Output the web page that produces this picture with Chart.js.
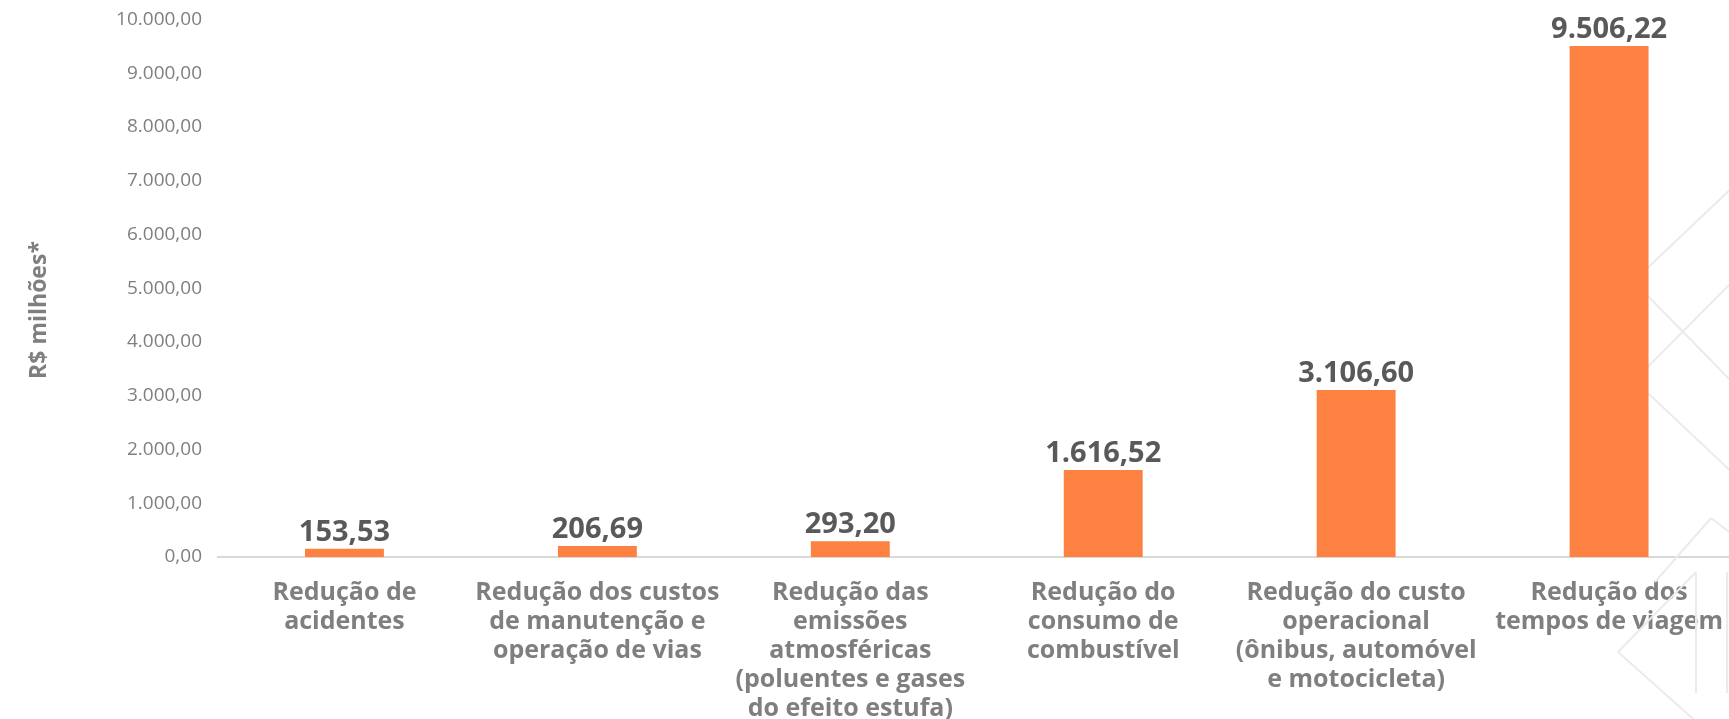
<!DOCTYPE html>
<html>
<head>
<meta charset="utf-8">
<script src="https://cdn.jsdelivr.net/npm/chart.js@4.4.1/dist/chart.umd.min.js"></script>
<style>
    html, body { margin: 0; padding: 0; background: #fff; overflow: hidden; }
    #wrap { width: 1736px; height: 719px; }
</style>
</head>
<body>
<div id="wrap"><canvas id="benefitChart" width="1736" height="719"></canvas></div>
<script>
// =========================
// DATA
// =========================
const categories = [
    ["Redução de", "acidentes"],
    ["Redução dos custos", "de manutenção e", "operação de vias"],
    ["Redução das", "emissões", "atmosféricas", "(poluentes e gases", "do efeito estufa)"],
    ["Redução do", "consumo de", "combustível"],
    ["Redução do custo", "operacional", "(ônibus, automóvel", "e motocicleta)"],
    ["Redução dos", "tempos de viagem"]
];
const values = [153.53, 206.69, 293.20, 1616.52, 3106.60, 9506.22];
const yTickValues = [0, 1000, 2000, 3000, 4000, 5000, 6000, 7000, 8000, 9000, 10000];
const yTitle = "R$ milhões*";

const FONT = '"Open Sans", "Noto Sans", sans-serif';
const GREY = "#7f7f7f";

// pt-BR number format: 9.506,22
function fmtBR(v) {
    const parts = Number(v).toFixed(2).split(".");
    return parts[0].replace(/\B(?=(\d{3})+(?!\d))/g, ".") + "," + parts[1];
}

// =========================
// PLUGINS
// =========================
// faint background decoration at the right edge
const decoPlugin = {
    id: "deco",
    beforeDatasetsDraw(chart) {
        const ctx = chart.ctx;
        ctx.save();
        ctx.strokeStyle = "#ebebeb";
        ctx.lineWidth = 2;
        const segs = [
            [1600, 313, 1736, 184],
            [1600, 247, 1736, 386],
            [1600, 415, 1736, 278],
            [1600, 348, 1736, 476],
            [1655, 582, 1711, 518],
            [1711, 518, 1736, 537],
            [1696, 572, 1618, 652],
            [1618, 652, 1700, 725],
            [1696, 572, 1696, 693],
            [1727, 572, 1727, 693]
        ];
        segs.forEach(s => {
            ctx.beginPath();
            ctx.moveTo(s[0], s[1]);
            ctx.lineTo(s[2], s[3]);
            ctx.stroke();
        });
        ctx.restore();
    }
};

// value labels above bars + rotated axis title
const labelPlugin = {
    id: "valueLabels",
    afterDatasetsDraw(chart) {
        const ctx = chart.ctx;
        const meta = chart.getDatasetMeta(0);
        ctx.save();
        ctx.fillStyle = "#595959";
        ctx.font = "bold 29px " + FONT;
        ctx.textAlign = "center";
        ctx.textBaseline = "alphabetic";
        meta.data.forEach((bar, i) => {
            ctx.fillText(fmtBR(values[i]), bar.x, bar.y - 8);
        });

        ctx.translate(39, 310);
        ctx.rotate(-Math.PI / 2);
        ctx.fillStyle = GREY;
        ctx.font = "bold 23px " + FONT;
        ctx.textBaseline = "middle";
        ctx.fillText(yTitle, 0, 0);
        ctx.restore();
    }
};

// =========================
// CHART
// =========================
const ctx = document.getElementById("benefitChart").getContext("2d");

new Chart(ctx, {
    type: "bar",
    data: {
        labels: categories,
        datasets: [{
            data: values,
            backgroundColor: "#fd8140",
            borderWidth: 0,
            categoryPercentage: 1,
            barPercentage: 0.312
        }]
    },
    options: {
        responsive: false,
        animation: false,
        devicePixelRatio: 1,
        layout: { padding: { top: 13, right: 0, bottom: 0, left: 0 } },
        plugins: {
            legend: { display: false },
            tooltip: { enabled: false }
        },
        scales: {
            x: {
                grid: { display: false },
                border: { display: true, color: "#d9d9d9", width: 2 },
                ticks: {
                    autoSkip: false,
                    maxRotation: 0,
                    minRotation: 0,
                    padding: 13,
                    color: GREY,
                    font: { family: FONT, size: 25, weight: "bold", lineHeight: "29px" }
                },
                afterFit: scale => { scale.height = 162; }
            },
            y: {
                min: 0,
                max: 10000,
                grid: { display: false },
                border: { display: false },
                afterBuildTicks: scale => {
                    scale.ticks = yTickValues.map(v => ({ value: v }));
                },
                ticks: {
                    padding: 8,
                    color: GREY,
                    font: { family: FONT, size: 19 },
                    callback: v => fmtBR(v)
                },
                afterFit: scale => { scale.width = 218; }
            }
        }
    },
    plugins: [decoPlugin, labelPlugin]
});
</script>
</body>
</html>
